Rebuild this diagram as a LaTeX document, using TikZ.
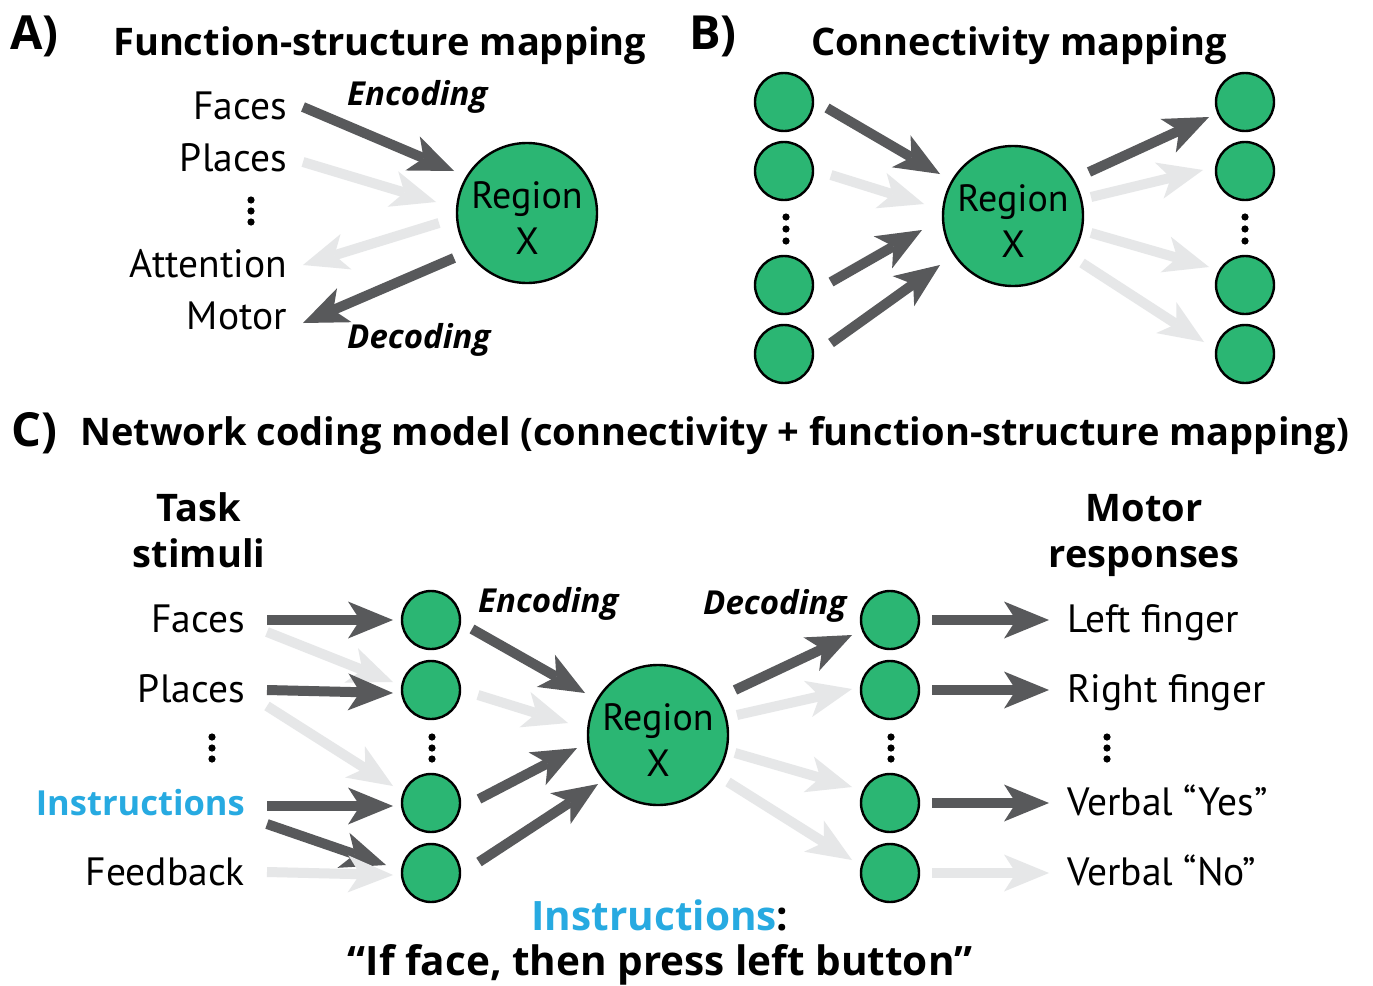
\documentclass[tikz,border=0pt]{standalone}
\usepackage{fontspec}
\setmainfont{PT Sans}
\newfontfamily\hfont{Open Sans}
\usetikzlibrary{arrows.meta}
\definecolor{grn}{HTML}{2BB673}
\definecolor{dkg}{HTML}{58595B}
\definecolor{ltg}{HTML}{E6E7E8}
\definecolor{cyn}{HTML}{27AAE1}
\tikzset{
 arrowtip/.style={-{Stealth[length=45pt,width=37pt,inset=12pt,line width=0pt]}},
 dk/.style={draw=dkg, line width=10pt, arrowtip},
 lt/.style={draw=ltg, line width=10pt, arrowtip},
 bigc/.style={circle, draw=black, line width=2.4pt, fill=grn, minimum size=140pt, inner sep=0pt},
 rtxt/.style={inner sep=0pt, align=center, font=\fontsize{38}{46}\selectfont},
 smc/.style={circle, draw=black, line width=2.4pt, fill=grn, minimum size=58pt, inner sep=0pt},
 lbl/.style={inner sep=0pt, font=\fontsize{39.5}{41}\selectfont},
 ttl/.style={inner sep=0pt, font=\hfont\bfseries\fontsize{38}{40}\selectfont},
 pan/.style={inner sep=0pt, font=\hfont\bfseries\fontsize{47}{49}\selectfont},
 cod/.style={inner sep=0pt, font=\hfont\bfseries\itshape\fontsize{33}{35}\selectfont},
 dot/.style={fill=black},
}
\begin{document}
\begin{tikzpicture}[x=1pt,y=-1pt]
\useasboundingbox (0,0) rectangle (1373,985);
\fill[white] (0,0) rectangle (1373,985);

% ---------- Panel A ----------
\node[pan, anchor=base west] (pA) at (10,49) {A)};
\node[ttl, anchor=base west] (tA) at (113,55) {Function-structure mapping};
\node[lbl, anchor=base east] (faA) at (287,119) {Faces};
\node[lbl, anchor=base east] (plA) at (287,171) {Places};
\node[lbl, anchor=base east] (atA) at (287,277) {Attention};
\node[lbl, anchor=base east] (moA) at (287,329) {Motor};
\foreach \y in {200,211,222} \fill[dot] (251,\y) circle (3.6pt);
\node[bigc] (rA) at (527,213) {};
\node[rtxt] (rAt) at ([shift={(0,5)}]rA.center) {Region\\X};
\node[cod, anchor=base west] (enA) at (347,105) {Encoding};
\node[cod, anchor=base west] (deA) at (347,348) {Decoding};
\draw[dk] ([shift={(16,-12)}]faA.base east) -- ([shift={(-73,-42)}]rA.center);
\draw[lt] ([shift={(16,-9)}]plA.base east) -- ([shift={(-91,-11)}]rA.center);
\draw[lt] ([shift={(-88,10)}]rA.center) -- ([shift={(16,-12)}]atA.base east);
\draw[dk] ([shift={(-73,45)}]rA.center) -- ([shift={(16,-6)}]moA.base east);

% ---------- Panel B ----------
\node[pan, anchor=base west] (pB) at (689,49) {B)};
\node[ttl, anchor=base west] (tB) at (811,55) {Connectivity mapping};
\node[smc] (L1) at (784,102) {};
\node[smc] (L2) at (784,171) {};
\node[smc] (L3) at (784,285) {};
\node[smc] (L4) at (784,354) {};
\node[smc] (R1) at (1245,102) {};
\node[smc] (R2) at (1245,171) {};
\node[smc] (R3) at (1245,285) {};
\node[smc] (R4) at (1245,354) {};
\foreach \y in {217,229,241} {\fill[dot] (786,\y) circle (3.6pt); \fill[dot] (1245,\y) circle (3.6pt);}
\node[bigc] (rB) at (1013,216) {};
\node[rtxt] (rBt) at ([shift={(0,5)}]rB.center) {Region\\X};
\draw[dk] ([shift={(43,6)}]L1.center) -- ([shift={(-73,-42)}]rB.center);
\draw[lt] ([shift={(47,4)}]L2.center) -- ([shift={(-89,-12)}]rB.center);
\draw[dk] ([shift={(47,-3)}]L3.center) -- ([shift={(-91,14)}]rB.center);
\draw[dk] ([shift={(47,-11)}]L4.center) -- ([shift={(-73,49)}]rB.center);
\draw[dk] ([shift={(76,-44)}]rB.center) -- ([shift={(-36,15)}]R1.center);
\draw[lt] ([shift={(78,-19)}]rB.center) -- ([shift={(-42,-1)}]R2.center);
\draw[lt] ([shift={(78,17)}]rB.center) -- ([shift={(-36,-18)}]R3.center);
\draw[lt] ([shift={(69,47)}]rB.center) -- ([shift={(-41,-12)}]R4.center);

% ---------- Panel C ----------
\node[pan, anchor=base west] (pC) at (11,446) {C)};
\node[ttl, anchor=base west] (tC) at (80,445) {Network coding model (connectivity + function-structure mapping)};
\node[ttl, anchor=base] (task) at (199,521) {Task};
\node[ttl, anchor=base] (stim) at (199,567) {stimuli};
\node[ttl, anchor=base] (motr) at (1144,521) {Motor};
\node[ttl, anchor=base] (resp) at (1144,567) {responses};

\node[lbl, anchor=base east] (faC) at (245,632) {Faces};
\node[lbl, anchor=base east] (plC) at (245,702) {Places};
\node[lbl, anchor=base east, text=cyn, font=\hfont\bfseries\fontsize{34.5}{36}\selectfont] (inC) at (245,815) {Instructions};
\node[lbl, anchor=base east] (fbC) at (245,885) {Feedback};
\foreach \y in {737,748,759} {\fill[dot] (212,\y) circle (3.6pt); \fill[dot] (432,\y) circle (3.6pt); \fill[dot] (891,\y) circle (3.6pt); \fill[dot] (1107,\y) circle (3.6pt);}

\node[smc] (s1) at (431,620) {};
\node[smc] (s2) at (431,690) {};
\node[smc] (s3) at (431,803) {};
\node[smc] (s4) at (431,873) {};
\node[smc] (m1) at (890,620) {};
\node[smc] (m2) at (890,690) {};
\node[smc] (m3) at (890,803) {};
\node[smc] (m4) at (890,873) {};
\node[bigc] (rC) at (658,735) {};
\node[rtxt] (rCt) at ([shift={(0,5)}]rC.center) {Region\\X};

\node[lbl, anchor=base west] (lf) at (1067,632) {Left finger};
\node[lbl, anchor=base west] (rf) at (1067,702) {Right finger};
\node[lbl, anchor=base west] (vy) at (1067,815) {Verbal “Yes”};
\node[lbl, anchor=base west] (vn) at (1067,885) {Verbal “No”};

\node[cod, anchor=base west] (enC) at (478,612) {Encoding};
\node[cod, anchor=base west] (deC) at (703,614) {Decoding};

\draw[dk] ([shift={(22,-12)}]faC.base east) -- ([shift={(-38,0)}]s1.center);
\draw[lt] ([shift={(22,0)}]faC.base east) -- ([shift={(-38,-8)}]s2.center);
\draw[dk] ([shift={(22,-12)}]plC.base east) -- ([shift={(-38,3)}]s2.center);
\draw[lt] ([shift={(22,4)}]plC.base east) -- ([shift={(-38,-17)}]s3.center);
\draw[dk] ([shift={(22,-9)}]inC.base east) -- ([shift={(-38,3)}]s3.center);
\draw[dk] ([shift={(22,9)}]inC.base east) -- ([shift={(-45,-8)}]s4.center);
\draw[lt] ([shift={(22,-13)}]fbC.base east) -- ([shift={(-38,2)}]s4.center);

\draw[dk] ([shift={(41,9)}]s1.center) -- ([shift={(-73,-42)}]rC.center);
\draw[lt] ([shift={(47,5)}]s2.center) -- ([shift={(-90,-12)}]rC.center);
\draw[dk] ([shift={(48,-4)}]s3.center) -- ([shift={(-81,13)}]rC.center);
\draw[dk] ([shift={(48,-11)}]s4.center) -- ([shift={(-60,49)}]rC.center);

\draw[dk] ([shift={(77,-45)}]rC.center) -- ([shift={(-38,15)}]m1.center);
\draw[lt] ([shift={(79,-20)}]rC.center) -- ([shift={(-38,-1)}]m2.center);
\draw[lt] ([shift={(77,18)}]rC.center) -- ([shift={(-38,-16)}]m3.center);
\draw[lt] ([shift={(70,47)}]rC.center) -- ([shift={(-38,-13)}]m4.center);

\draw[dk] ([shift={(42,0)}]m1.center) -- ([shift={(-18,-12)}]lf.base west);
\draw[dk] ([shift={(42,0)}]m2.center) -- ([shift={(-18,-12)}]rf.base west);
\draw[dk] ([shift={(42,0)}]m3.center) -- ([shift={(-18,-12)}]vy.base west);
\draw[lt] ([shift={(42,0)}]m4.center) -- ([shift={(-18,-12)}]vn.base west);

\node[ttl, anchor=base, font=\hfont\bfseries\fontsize{40.5}{42}\selectfont] (ins) at (660,930) {\textcolor{cyn}{Instructions}:};
\node[ttl, anchor=base, font=\hfont\bfseries\fontsize{40.5}{42}\selectfont] (quo) at (660,975) {“If face, then press left button”};
\end{tikzpicture}
\end{document}
